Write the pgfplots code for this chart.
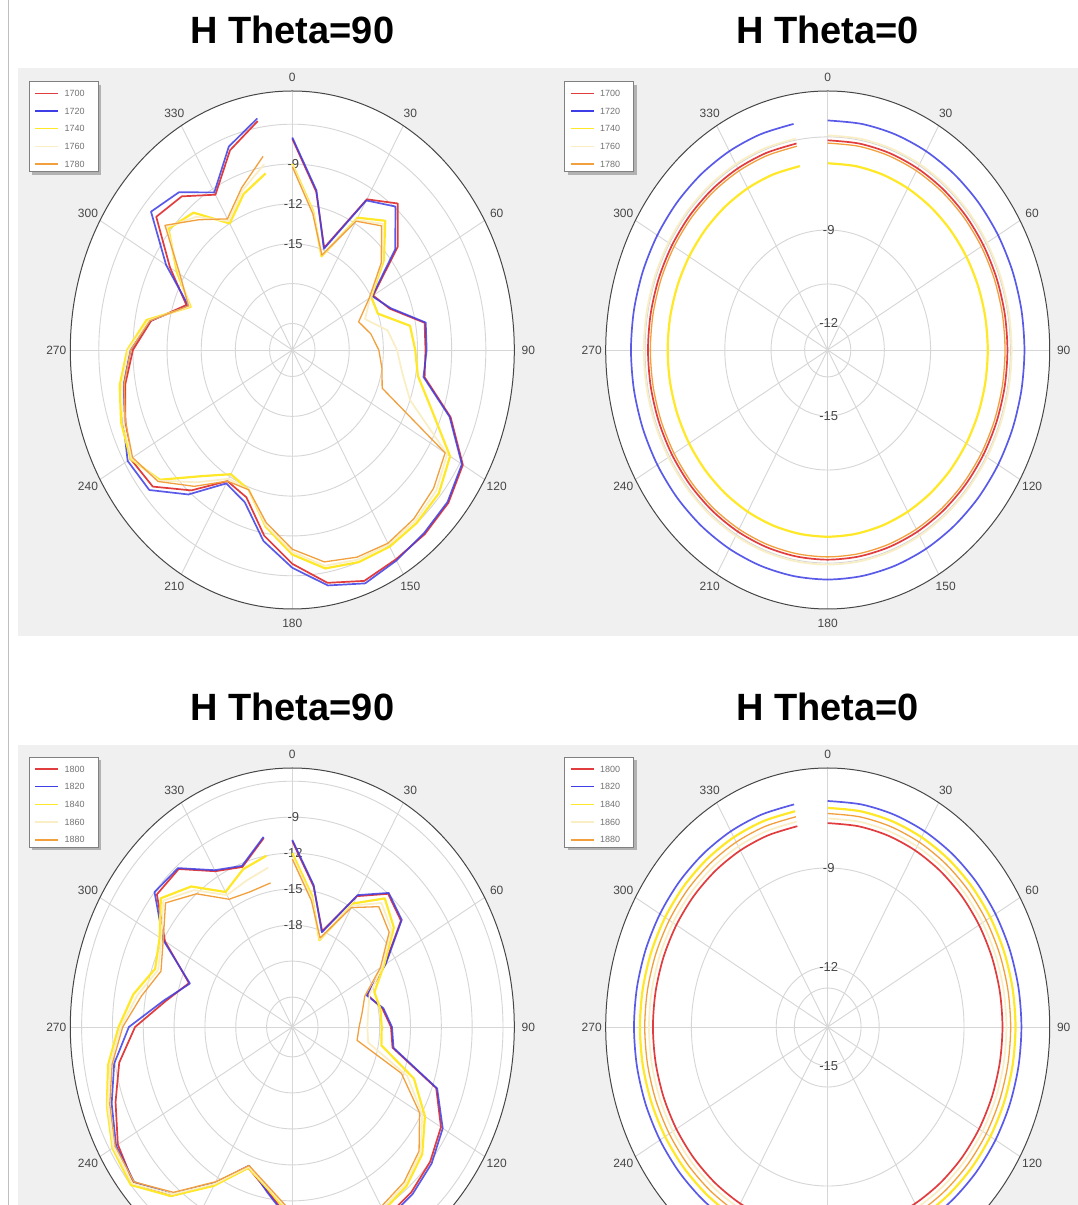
\documentclass[border=0pt]{standalone}
\usepackage{pgfplots}
\pgfplotsset{compat=1.18}
\usepackage{pgfplotstable}
\usepackage{fontspec}
\setmainfont{Liberation Sans}

\definecolor{panelbg}{RGB}{240,240,240}
\definecolor{gridc}{RGB}{214,214,214}
\definecolor{rimc}{RGB}{70,70,70}
\definecolor{labc}{RGB}{70,70,70}
\definecolor{cred}{RGB}{225,60,62}
\definecolor{cblue}{RGB}{62,62,230}
\definecolor{cyel}{RGB}{255,232,40}
\definecolor{cpale}{RGB}{250,238,196}
\definecolor{corg}{RGB}{242,160,62}

% H Theta=90, 1700..1780 MHz (dB)
\pgfplotstableread{
deg c1 c2 c3 c4 c5
0 -7.1 -7.0 -9.0 -9.1 -9.2
10 -10.9 -10.8 -12.4 -12.5 -12.6
20 -14.8 -14.9 -15.5 -15.4 -15.4
30 -9.9 -10.0 -11.5 -11.7 -11.8
40 -8.6 -8.9 -10.3 -10.6 -10.8
50 -10.9 -11.2 -12.5 -12.7 -12.8
60 -14.8 -14.9 -15.0 -15.1 -15.2
70 -13.9 -13.8 -15.0 -16.2 -16.8
80 -11.2 -11.1 -12.5 -14.5 -16.0
90 -11.3 -11.2 -12.2 -13.8 -15.4
100 -11.2 -11.3 -11.8 -13.2 -15.0
110 -8.2 -8.3 -10.0 -12.0 -14.6
120 -5.7 -5.8 -7.0 -7.3 -7.5
130 -5.1 -5.2 -6.2 -6.5 -6.8
140 -4.9 -5.0 -6.0 -6.2 -6.4
150 -4.8 -4.7 -5.9 -6.1 -6.2
160 -4.5 -4.3 -6.0 -6.2 -6.4
170 -5.2 -5.0 -6.3 -6.5 -6.8
180 -6.9 -6.6 -7.6 -7.8 -8.0
190 -8.8 -8.4 -9.5 -9.6 -9.8
200 -11.2 -10.8 -11.8 -11.8 -11.8
210 -11.6 -11.4 -12.2 -11.8 -11.6
220 -9.2 -8.8 -10.6 -10.0 -9.6
230 -7.0 -6.6 -7.8 -7.7 -7.6
240 -6.6 -6.3 -6.6 -6.7 -6.8
250 -7.4 -7.2 -7.0 -7.2 -7.4
260 -8.1 -7.9 -7.6 -7.8 -8.0
270 -9.0 -8.8 -8.5 -8.6 -8.8
280 -10.4 -10.3 -10.0 -10.2 -10.3
290 -13.1 -13.3 -13.5 -13.4 -13.3
300 -10.6 -10.2 -11.3 -11.5 -11.6
310 -7.4 -6.8 -8.8 -8.6 -8.4
320 -7.9 -7.5 -9.5 -9.9 -10.2
330 -9.5 -9.3 -12.0 -11.8 -11.6
340 -7.0 -6.7 -10.5 -10.2 -10.0
350 -5.5 -5.3 -9.5 -8.8 -8.2
}\dataA

% H Theta=0, 1700..1780 MHz (dB)
\pgfplotstableread{
deg c1 c2 c3 c4 c5
0 -6.11 -5.47 -6.85 -5.95 -6.20
10 -6.11 -5.47 -6.85 -5.95 -6.20
20 -6.11 -5.47 -6.85 -5.95 -6.20
30 -6.11 -5.47 -6.85 -5.95 -6.20
40 -6.11 -5.47 -6.85 -5.95 -6.20
50 -6.11 -5.47 -6.85 -5.95 -6.20
60 -6.11 -5.47 -6.85 -5.95 -6.20
70 -6.11 -5.47 -6.85 -5.95 -6.20
80 -6.11 -5.47 -6.85 -5.95 -6.20
90 -6.11 -5.47 -6.85 -5.95 -6.20
100 -6.11 -5.47 -6.85 -5.95 -6.20
110 -6.11 -5.47 -6.85 -5.95 -6.20
120 -6.11 -5.47 -6.85 -5.95 -6.20
130 -6.11 -5.47 -6.85 -5.95 -6.20
140 -6.11 -5.47 -6.85 -5.95 -6.20
150 -6.11 -5.47 -6.85 -5.95 -6.20
160 -6.11 -5.47 -6.85 -5.95 -6.20
170 -6.11 -5.47 -6.85 -5.95 -6.20
180 -6.11 -5.47 -6.85 -5.95 -6.20
190 -6.11 -5.47 -6.85 -5.95 -6.20
200 -6.11 -5.47 -6.85 -5.95 -6.20
210 -6.11 -5.47 -6.85 -5.95 -6.20
220 -6.11 -5.47 -6.85 -5.95 -6.20
230 -6.11 -5.47 -6.85 -5.95 -6.20
240 -6.11 -5.47 -6.85 -5.95 -6.20
250 -6.11 -5.47 -6.85 -5.95 -6.20
260 -6.11 -5.47 -6.85 -5.95 -6.20
270 -6.11 -5.47 -6.85 -5.95 -6.20
280 -6.11 -5.47 -6.85 -5.95 -6.20
290 -6.11 -5.47 -6.85 -5.95 -6.20
300 -6.11 -5.47 -6.85 -5.95 -6.20
310 -6.11 -5.47 -6.85 -5.95 -6.20
320 -6.11 -5.47 -6.85 -5.95 -6.20
330 -6.11 -5.47 -6.85 -5.95 -6.20
340 -6.11 -5.47 -6.85 -5.95 -6.20
350 -6.11 -5.47 -6.85 -5.95 -6.20
}\dataB

% H Theta=90, 1800..1880 MHz (dB)
\pgfplotstableread{
deg c1 c2 c3 c4 c5
0 -11.0 -10.9 -12.0 -12.3 -12.5
10 -14.6 -14.5 -15.4 -15.6 -15.8
20 -18.0 -18.1 -18.8 -18.7 -18.6
30 -13.9 -13.8 -14.6 -14.8 -15.0
40 -12.0 -11.9 -12.5 -13.0 -13.4
50 -12.7 -12.6 -13.6 -13.9 -14.2
60 -16.1 -16.0 -16.2 -16.4 -16.6
70 -18.7 -18.8 -18.0 -18.5 -19.0
80 -17.6 -17.5 -17.8 -19.0 -19.6
90 -16.9 -16.8 -17.8 -19.2 -20.0
100 -16.6 -16.5 -17.7 -19.0 -20.1
110 -11.6 -11.5 -13.9 -14.6 -15.2
120 -9.8 -9.6 -11.6 -11.9 -12.2
130 -9.0 -8.8 -10.0 -10.2 -10.4
140 -8.5 -8.3 -9.2 -9.4 -9.6
150 -8.2 -8.0 -8.8 -9.0 -9.2
160 -8.2 -8.0 -8.8 -9.0 -9.2
170 -8.7 -8.5 -9.3 -9.5 -9.7
180 -10.2 -10.0 -10.6 -10.8 -11.0
190 -12.6 -12.5 -12.8 -12.9 -13.0
200 -14.0 -14.2 -14.0 -14.1 -14.2
210 -11.3 -11.5 -11.2 -11.4 -11.6
220 -8.1 -8.3 -8.1 -8.3 -8.5
230 -6.3 -6.4 -6.0 -6.2 -6.4
240 -6.9 -6.7 -6.3 -6.4 -6.6
250 -8.2 -7.8 -7.3 -7.4 -7.6
260 -9.4 -8.9 -8.3 -8.5 -8.7
270 -11.2 -10.6 -9.6 -9.8 -10.0
280 -14.0 -13.8 -10.8 -11.2 -11.6
290 -15.8 -15.9 -12.3 -12.6 -12.9
300 -12.2 -12.0 -11.6 -11.8 -12.0
310 -9.3 -9.0 -9.8 -10.1 -10.4
320 -9.3 -9.2 -11.2 -11.6 -12.0
330 -11.5 -11.4 -13.5 -13.8 -14.2
340 -12.3 -12.2 -12.5 -13.5 -14.5
350 -10.5 -10.4 -12.0 -13.0 -14.3
}\dataC

% H Theta=0, 1800..1880 MHz (dB)
\pgfplotstableread{
deg c1 c2 c3 c4 c5
0 -7.64 -6.97 -7.18 -7.50 -7.35
10 -7.64 -6.97 -7.18 -7.50 -7.35
20 -7.64 -6.97 -7.18 -7.50 -7.35
30 -7.64 -6.97 -7.18 -7.50 -7.35
40 -7.64 -6.97 -7.18 -7.50 -7.35
50 -7.64 -6.97 -7.18 -7.50 -7.35
60 -7.64 -6.97 -7.18 -7.50 -7.35
70 -7.64 -6.97 -7.18 -7.50 -7.35
80 -7.64 -6.97 -7.18 -7.50 -7.35
90 -7.64 -6.97 -7.18 -7.50 -7.35
100 -7.64 -6.97 -7.18 -7.50 -7.35
110 -7.64 -6.97 -7.18 -7.50 -7.35
120 -7.64 -6.97 -7.18 -7.50 -7.35
130 -7.64 -6.97 -7.18 -7.50 -7.35
140 -7.64 -6.97 -7.18 -7.50 -7.35
150 -7.64 -6.97 -7.18 -7.50 -7.35
160 -7.64 -6.97 -7.18 -7.50 -7.35
170 -7.64 -6.97 -7.18 -7.50 -7.35
180 -7.64 -6.97 -7.18 -7.50 -7.35
190 -7.64 -6.97 -7.18 -7.50 -7.35
200 -7.64 -6.97 -7.18 -7.50 -7.35
210 -7.64 -6.97 -7.18 -7.50 -7.35
220 -7.64 -6.97 -7.18 -7.50 -7.35
230 -7.64 -6.97 -7.18 -7.50 -7.35
240 -7.64 -6.97 -7.18 -7.50 -7.35
250 -7.64 -6.97 -7.18 -7.50 -7.35
260 -7.64 -6.97 -7.18 -7.50 -7.35
270 -7.64 -6.97 -7.18 -7.50 -7.35
280 -7.64 -6.97 -7.18 -7.50 -7.35
290 -7.64 -6.97 -7.18 -7.50 -7.35
300 -7.64 -6.97 -7.18 -7.50 -7.35
310 -7.64 -6.97 -7.18 -7.50 -7.35
320 -7.64 -6.97 -7.18 -7.50 -7.35
330 -7.64 -6.97 -7.18 -7.50 -7.35
340 -7.64 -6.97 -7.18 -7.50 -7.35
350 -7.64 -6.97 -7.18 -7.50 -7.35
}\dataD

% polar frame: #1 cx, #2 cy, #3 rmin, #4 rmax, #5 rings, #6 labelled rings, #7 angle labels
\newcommand{\polarframe}[7]{%
  \fill[white] (#1,#2) ellipse [x radius=222, y radius=259];
  \foreach \d in {#5}{
    \pgfmathsetmacro{\f}{abs(\d-(#3))/((#4)-(#3))}
    \draw[gridc, line width=0.9pt] (#1,#2) ellipse [x radius={222*\f}, y radius={259*\f}];
  }
  \foreach \a in {0,30,...,150}{
    \draw[gridc, line width=0.9pt] ({#1+222*sin(\a)},{#2+259*cos(\a)}) -- ({#1-222*sin(\a)},{#2-259*cos(\a)});
  }
  \draw[rimc, line width=1pt] (#1,#2) ellipse [x radius=222, y radius=259];
  \foreach \a in {#7}{
    \node[font=\fontsize{12}{12}\selectfont, text=labc, inner sep=0pt] at ({#1+236*sin(\a)},{#2+273*cos(\a)}) {\a};
  }
  \foreach \d in {#6}{
    \pgfmathsetmacro{\f}{(\d-(#3))/((#4)-(#3))}
    \node[font=\fontsize{13}{13}\selectfont, text=labc, inner sep=0pt] at ({#1+1},{#2+259*\f}) {\d};
  }
}

% data: #1 cx, #2 cy, #3 rmin, #4 span, #5 table, #6 extra plot style
\newcommand{\polardata}[6]{%
  \begin{axis}[at={(#1pt,#2pt)}, anchor=origin, scale only axis,
    width=444pt, height=518pt, xmin=-#4, xmax=#4, ymin=-#4, ymax=#4,
    axis lines=none, clip=false,
    every axis plot/.append style={line width=1.7pt, line join=round, no markers, #6}]
    \addplot[cred] table[x expr={(\thisrow{c1}-(#3))*sin(\thisrow{deg})}, y expr={(\thisrow{c1}-(#3))*cos(\thisrow{deg})}] {#5};
    \addplot[cblue, opacity=0.85] table[x expr={(\thisrow{c2}-(#3))*sin(\thisrow{deg})}, y expr={(\thisrow{c2}-(#3))*cos(\thisrow{deg})}] {#5};
    \addplot[cyel, line width=2.2pt] table[x expr={(\thisrow{c3}-(#3))*sin(\thisrow{deg})}, y expr={(\thisrow{c3}-(#3))*cos(\thisrow{deg})}] {#5};
    \addplot[cpale] table[x expr={(\thisrow{c4}-(#3))*sin(\thisrow{deg})}, y expr={(\thisrow{c4}-(#3))*cos(\thisrow{deg})}] {#5};
    \addplot[corg, line width=1.3pt] table[x expr={(\thisrow{c5}-(#3))*sin(\thisrow{deg})}, y expr={(\thisrow{c5}-(#3))*cos(\thisrow{deg})}] {#5};
  \end{axis}
}

% legend: #1 left, #2 top, #3 first label (of five, step 20)
\newcommand{\legendbox}[3]{%
  \fill[black!30] (#1+3,#2-93) rectangle (#1+72,#2-3);
  \filldraw[fill=white, draw=black!50, line width=0.8pt] (#1,#2) rectangle (#1+69,#2-90);
  \foreach \i/\c in {0/cred,1/cblue,2/cyel,3/cpale,4/corg}{
    \draw[\c, line width=1.4pt] (#1+6,{#2-11.6-17.7*\i}) -- (#1+29,{#2-11.6-17.7*\i});
    \pgfmathtruncatemacro{\lab}{#3+20*\i}
    \node[anchor=west, inner sep=0pt, font=\fontsize{9}{9}\selectfont, text=black!55] at (#1+35,{#2-11.6-17.7*\i}) {\lab};
  }
}

\begin{document}
\begin{tikzpicture}[x=1pt, y=1pt]
  \path[use as bounding box] (0,0) rectangle (1078,1205);
  \clip (0,0) rectangle (1078,1205);
  \fill[white] (0,0) rectangle (1078,1205);
  \draw[black!25, line width=1pt] (8.5,0) -- (8.5,1205);
  % panel backgrounds
  \fill[panelbg] (18,569) rectangle (1078,1137);
  \fill[panelbg] (18,0) rectangle (1078,460);
  % titles
  \node[anchor=base, font=\bfseries\fontsize{38}{38}\selectfont] at (292.3,1161) {H Theta=90};
  \node[anchor=base, font=\bfseries\fontsize{38}{38}\selectfont] at (827.7,1161) {H Theta=0};
  \node[anchor=base, font=\bfseries\fontsize{38}{38}\selectfont] at (292.3,484) {H Theta=90};
  \node[anchor=base, font=\bfseries\fontsize{38}{38}\selectfont] at (827.7,484) {H Theta=0};
  % frames
  \polarframe{292.3}{855}{-23}{-3.5}{-21,-18,-15,-12,-9,-6}{-9,-12,-15}{0,30,...,330}
  \polarframe{827.7}{855}{-12.87}{-4.52}{-6,-9,-12,-15}{-9,-12,-15}{0,30,...,330}
  \polarframe{292.3}{178}{-26.5}{-4.9}{-24,-21,-18,-15,-12,-9,-6}{-9,-12,-15,-18}{0,30,60,90,120,240,270,300,330}
  \polarframe{827.7}{178}{-13.82}{-5.97}{-9,-12,-15}{-9,-12,-15}{0,30,60,90,120,240,270,300,330}
  % data
  \polardata{292.3}{855}{-23}{19.5}{\dataA}{}
  \polardata{827.7}{855}{-12.87}{8.35}{\dataB}{smooth}
  \polardata{292.3}{178}{-26.5}{21.6}{\dataC}{}
  \polardata{827.7}{178}{-13.82}{7.85}{\dataD}{smooth}
  % legends
  \legendbox{29.3}{1123.3}{1700}
  \legendbox{564.8}{1123.3}{1700}
  \legendbox{29.3}{447.5}{1800}
  \legendbox{564.8}{447.5}{1800}
\end{tikzpicture}
\end{document}
